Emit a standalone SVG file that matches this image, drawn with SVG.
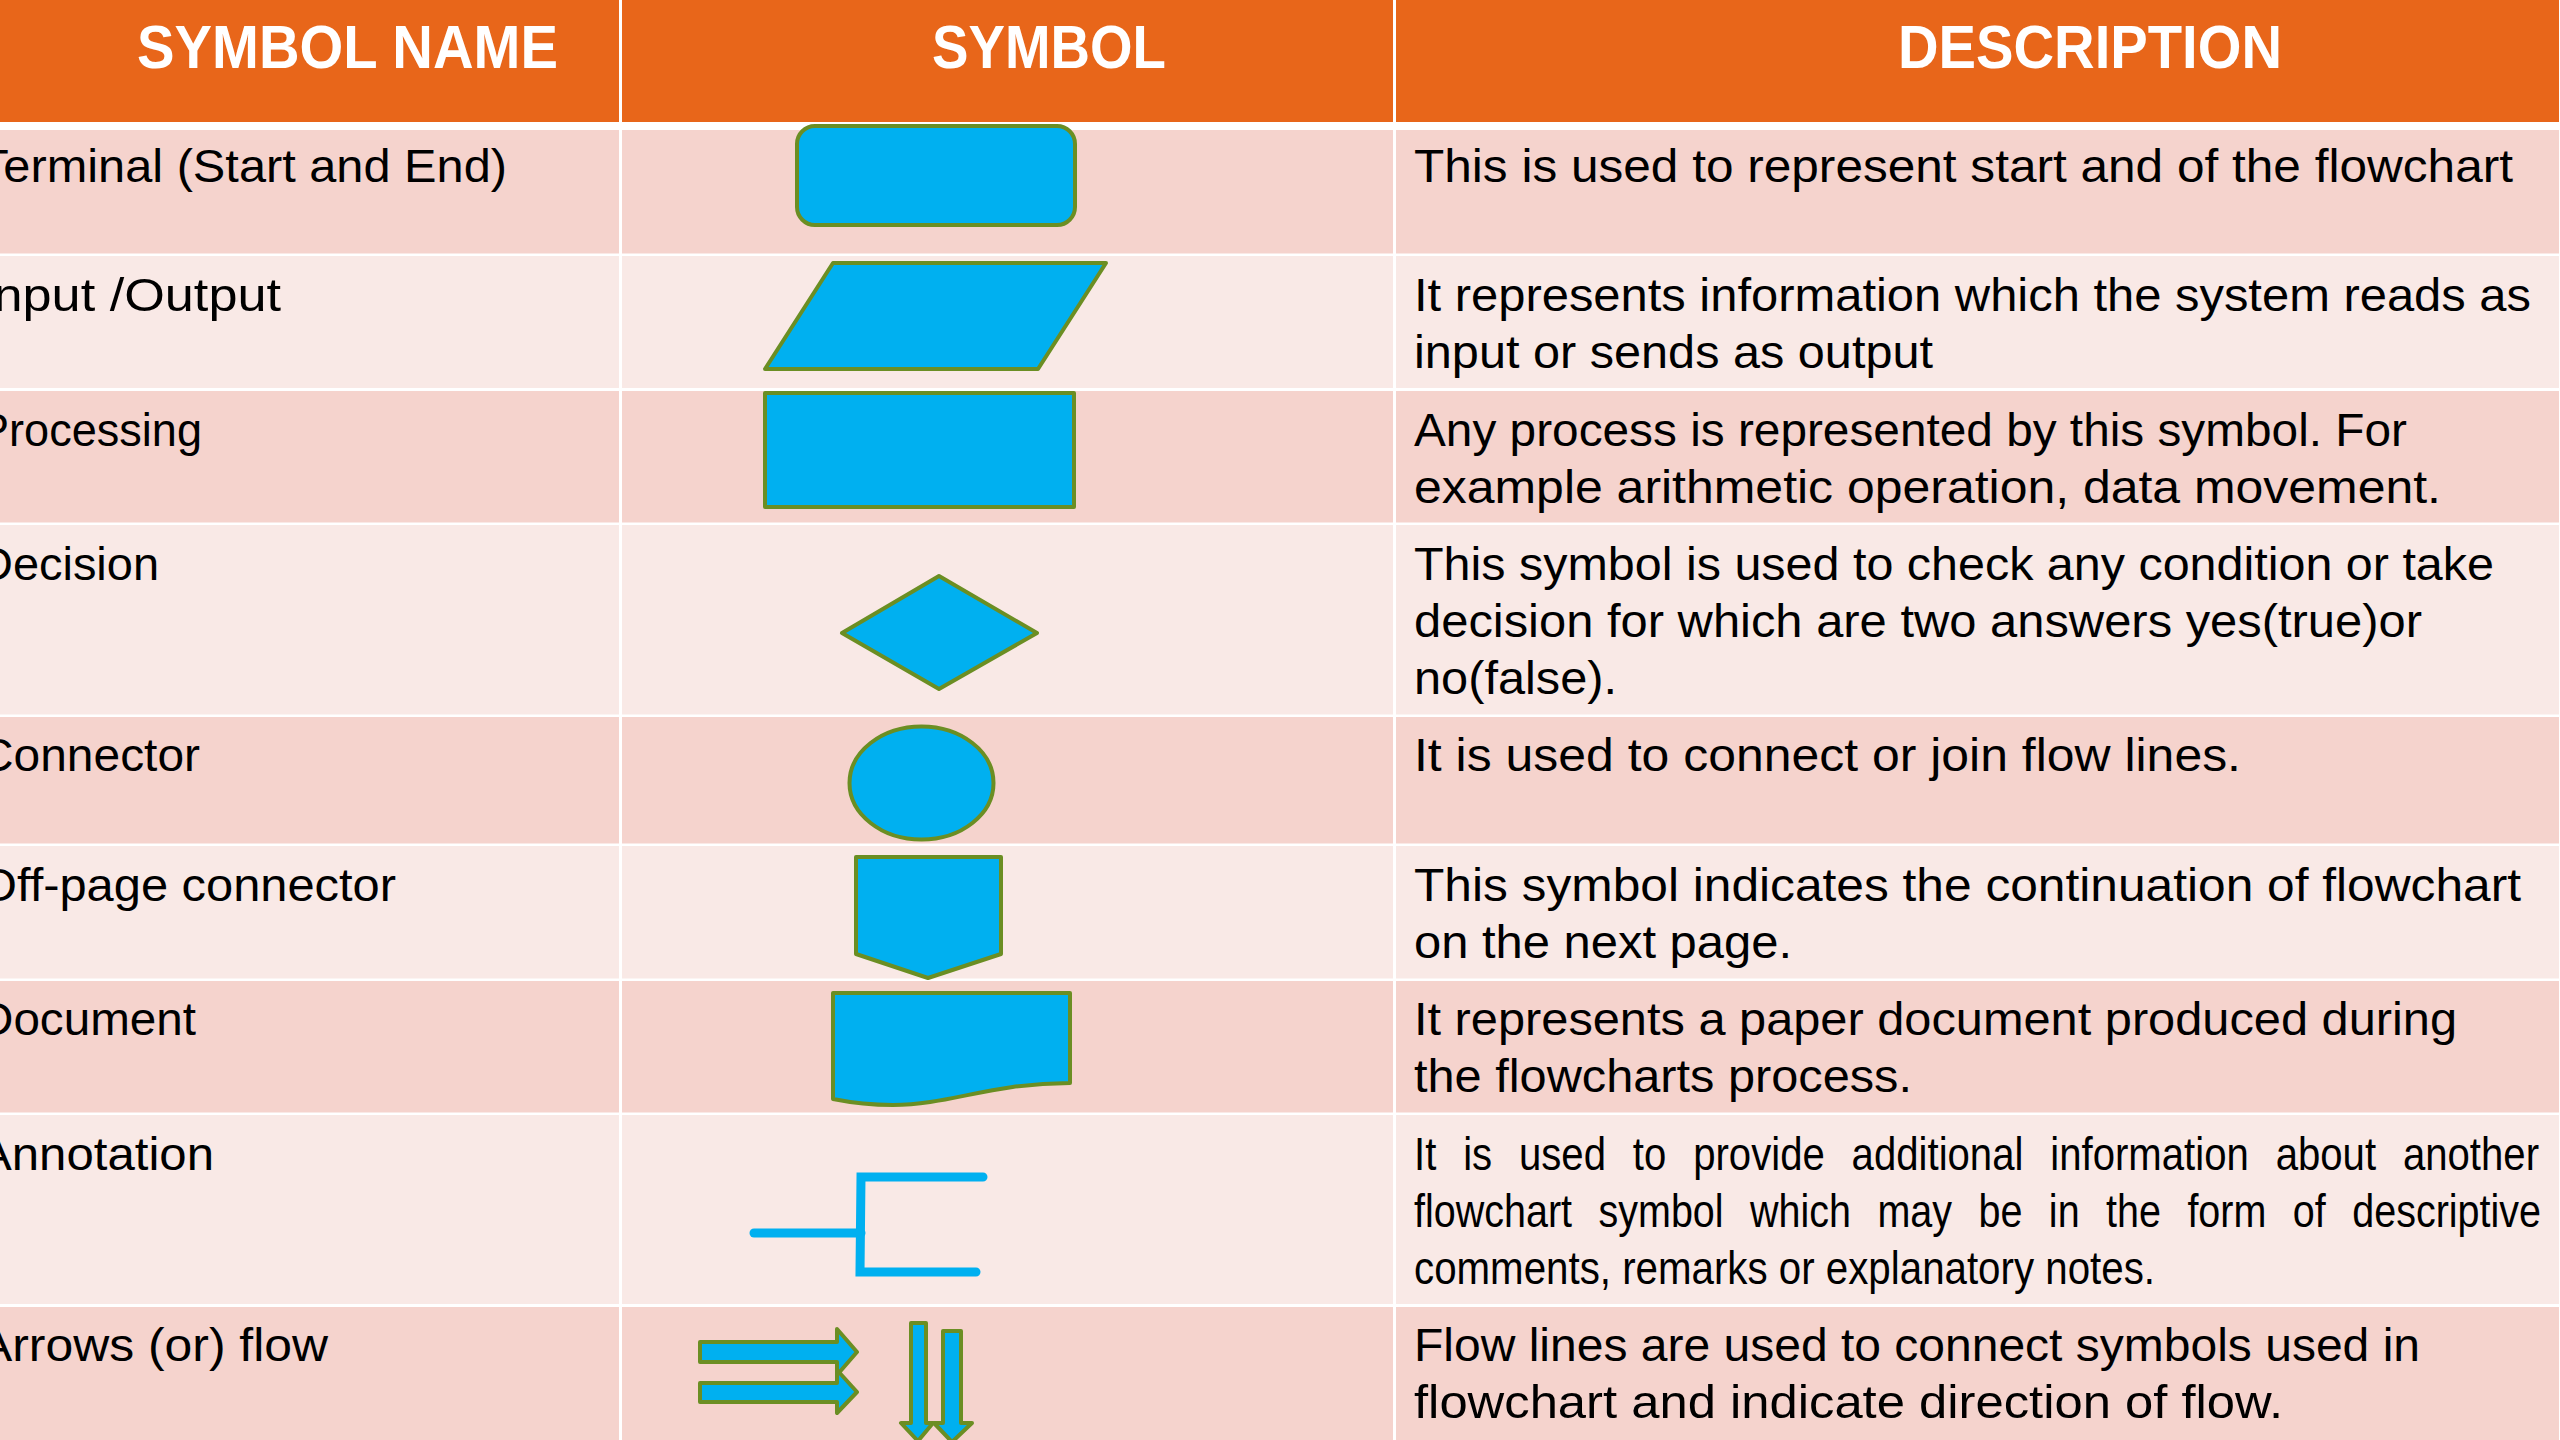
<svg xmlns="http://www.w3.org/2000/svg" width="2560" height="1440" viewBox="0 0 2560 1440">
<style>
.hdr{fill:#E8661A}
.dk{fill:#F5D3CD}
.lt{fill:#F9E9E6}
.div{fill:#FFFFFF}
.ht{font-family:"Liberation Sans",Arial,sans-serif;font-weight:bold;font-size:62px;fill:#FFFFFF}
.nm{font-family:"Liberation Sans",Arial,sans-serif;font-size:46px;fill:#000000}
.ds{font-family:"Liberation Sans",Arial,sans-serif;font-size:46px;fill:#000000}
.sh{fill:#00B0F0;stroke:#6B8E23;stroke-width:4;stroke-linejoin:round}
.an{fill:none;stroke:#00B0F0;stroke-width:9;stroke-linecap:round}
</style>
<rect x="0" y="0" width="2560" height="1440" fill="#FFFFFF"/>
<g id="table">
<rect class="hdr" x="0" y="0" width="2559" height="122"/>
<rect class="dk" x="0" y="130" width="2559" height="123.5"/>
<rect class="lt" x="0" y="256" width="2559" height="132"/>
<rect class="dk" x="0" y="391" width="2559" height="131.5"/>
<rect class="lt" x="0" y="525" width="2559" height="189.5"/>
<rect class="dk" x="0" y="717" width="2559" height="126.5"/>
<rect class="lt" x="0" y="846" width="2559" height="132.5"/>
<rect class="dk" x="0" y="981" width="2559" height="131.5"/>
<rect class="lt" x="0" y="1115" width="2559" height="189"/>
<rect class="dk" x="0" y="1307" width="2559" height="133"/>
<rect class="div" x="619" y="0" width="3" height="1440"/>
<rect class="div" x="1393" y="0" width="3" height="1440"/>
</g>
<g id="header">
<text class="ht" x="137" y="68" textLength="421" lengthAdjust="spacingAndGlyphs">SYMBOL NAME</text>
<text class="ht" x="932" y="68" textLength="234" lengthAdjust="spacingAndGlyphs">SYMBOL</text>
<text class="ht" x="1898" y="68" textLength="384" lengthAdjust="spacingAndGlyphs">DESCRIPTION</text>
</g>
<g id="node-terminal">
<text class="nm" x="-21" y="182" textLength="528" lengthAdjust="spacingAndGlyphs">Terminal (Start and End)</text>
<rect class="sh" x="797" y="126" width="278" height="99" rx="18"/>
<text class="ds" x="1414" y="182" textLength="1099" lengthAdjust="spacingAndGlyphs">This is used to represent start and of the flowchart</text>
</g>
<g id="node-io">
<text class="nm" x="-21" y="311" textLength="302" lengthAdjust="spacingAndGlyphs">Input /Output</text>
<polygon class="sh" points="833,263 1106,263 1038,369 765,369"/>
<text class="ds" x="1414" y="311" textLength="1117" lengthAdjust="spacingAndGlyphs">It represents information which the system reads as</text>
<text class="ds" x="1414" y="368" textLength="519" lengthAdjust="spacingAndGlyphs">input or sends as output</text>
</g>
<g id="node-processing">
<text class="nm" x="-21" y="446" textLength="223" lengthAdjust="spacingAndGlyphs">Processing</text>
<rect class="sh" x="765" y="393" width="309" height="114"/>
<text class="ds" x="1414" y="446" textLength="993" lengthAdjust="spacingAndGlyphs">Any process is represented by this symbol. For</text>
<text class="ds" x="1414" y="503" textLength="1027" lengthAdjust="spacingAndGlyphs">example arithmetic operation, data movement.</text>
</g>
<g id="node-decision">
<text class="nm" x="-21" y="580" textLength="180" lengthAdjust="spacingAndGlyphs">Decision</text>
<polygon class="sh" points="842,633 939,576 1037,633 939,689"/>
<text class="ds" x="1414" y="580" textLength="1080" lengthAdjust="spacingAndGlyphs">This symbol is used to check any condition or take</text>
<text class="ds" x="1414" y="637" textLength="1008" lengthAdjust="spacingAndGlyphs">decision for which are two answers yes(true)or</text>
<text class="ds" x="1414" y="694" textLength="203" lengthAdjust="spacingAndGlyphs">no(false).</text>
</g>
<g id="node-connector">
<text class="nm" x="-21" y="771" textLength="221" lengthAdjust="spacingAndGlyphs">Connector</text>
<ellipse class="sh" cx="921.5" cy="783" rx="72" ry="56.5"/>
<text class="ds" x="1414" y="771" textLength="827" lengthAdjust="spacingAndGlyphs">It is used to connect or join flow lines.</text>
</g>
<g id="node-offpage">
<text class="nm" x="-21" y="901" textLength="417" lengthAdjust="spacingAndGlyphs">Off-page connector</text>
<polygon class="sh" points="856,857 1001,857 1001,954 928,978 856,954"/>
<text class="ds" x="1414" y="901" textLength="1107" lengthAdjust="spacingAndGlyphs">This symbol indicates the continuation of flowchart</text>
<text class="ds" x="1414" y="958" textLength="378" lengthAdjust="spacingAndGlyphs">on the next page.</text>
</g>
<g id="node-document">
<text class="nm" x="-21" y="1035" textLength="217" lengthAdjust="spacingAndGlyphs">Document</text>
<path class="sh" d="M833,993 H1070 V1083 C990,1083 950,1105 893,1105 C865,1105 848,1102 833,1099 Z"/>
<text class="ds" x="1414" y="1035" textLength="1043" lengthAdjust="spacingAndGlyphs">It represents a paper document produced during</text>
<text class="ds" x="1414" y="1092" textLength="498" lengthAdjust="spacingAndGlyphs">the flowcharts process.</text>
</g>
<g id="node-annotation">
<text class="nm" x="-21" y="1170" textLength="235" lengthAdjust="spacingAndGlyphs">Annotation</text>
<path class="an" d="M754,1233 H861"/>
<path class="an" stroke-width="8" d="M983,1177 H861 L860,1272 H976"/>
<text class="ds" x="1414" y="1170" word-spacing="18" textLength="1125" lengthAdjust="spacingAndGlyphs">It is used to provide additional information about another</text>
<text class="ds" x="1414" y="1227" word-spacing="18" textLength="1127" lengthAdjust="spacingAndGlyphs">flowchart symbol which may be in the form of descriptive</text>
<text class="ds" x="1414" y="1284" textLength="741" lengthAdjust="spacingAndGlyphs">comments, remarks or explanatory notes.</text>
</g>
<g id="node-arrows">
<text class="nm" x="-21" y="1361" textLength="349" lengthAdjust="spacingAndGlyphs">Arrows (or) flow</text>
<polygon class="sh" points="700,1342 837,1342 837,1329 857,1352 837,1375 837,1362 700,1362"/>
<polygon class="sh" points="700,1383 837,1383 837,1370 857,1392 837,1413 837,1402 700,1402"/>
<polygon class="sh" points="911,1323 926,1323 926,1423 933,1423 918,1441 901,1423 911,1423"/>
<polygon class="sh" points="943,1331 961,1331 961,1423 972,1423 952,1442 934,1423 943,1423"/>
<text class="ds" x="1414" y="1361" textLength="1006" lengthAdjust="spacingAndGlyphs">Flow lines are used to connect symbols used in</text>
<text class="ds" x="1414" y="1418" textLength="869" lengthAdjust="spacingAndGlyphs">flowchart and indicate direction of flow.</text>
</g>
<g id="connectors"></g>
</svg>
